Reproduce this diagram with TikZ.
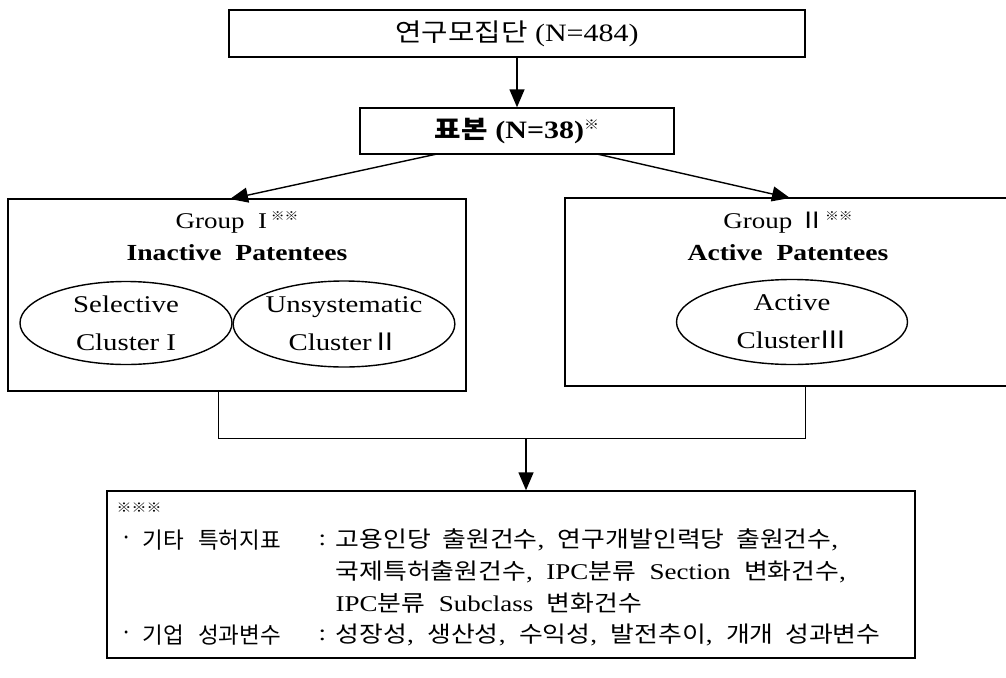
\documentclass[tikz,border=0pt]{standalone}
\usepackage{fontspec}
\setmainfont{Liberation Serif}[FakeStretch=1.2]
\newfontfamily\kr{Noto Sans CJK KR}[FakeStretch=1.15]
\newfontfamily\krn{Noto Sans CJK KR}
\usetikzlibrary{arrows.meta,shapes.geometric}
\newcommand{\refmk}{{\kr ※}}
\tikzset{
  frame/.style={draw, rectangle, inner sep=0pt},
  lbl/.style={inner sep=0pt},
  oval/.style={draw, ellipse, inner sep=0pt, align=center, font=\fontsize{24}{38}\selectfont},
  arr/.style={-{Triangle[length=18pt,width=15pt]}},
  body/.style={inner sep=0pt, anchor=west, font=\fontsize{22.5}{25}\selectfont},
  head/.style={inner sep=0pt, anchor=west, font=\fontsize{22.5}{25}\selectfont\krn},
  bullet/.style={inner sep=0pt, font=\fontsize{22}{25}\selectfont\krn}
}
\begin{document}
\begin{tikzpicture}[x=1pt,y=-1pt,line width=1.4pt]
\useasboundingbox (0,0) rectangle (1006,677);
% top boxes
\node[frame, minimum width=576pt, minimum height=47pt, font=\fontsize{25}{28}\selectfont] (pop) at (517,33.5) {{\kr 연구모집단} (N=484)};
\node[frame, minimum width=314pt, minimum height=46pt, font=\fontsize{25}{28}\selectfont\bfseries] (smp) at (517,131) {{\kr 표본} (N=38)\raisebox{9pt}{\fontsize{13}{13}\selectfont\refmk}};
% group boxes
\node[frame, minimum width=458pt, minimum height=192pt] (g1) at (237,295) {};
\node[frame, minimum width=455pt, minimum height=188pt] (g2) at (792.5,292) {};
\node[lbl, font=\fontsize{22.5}{26}\selectfont] (g1a) at (237,222) {Group\ \ I\,\raisebox{8pt}{\fontsize{12}{12}\selectfont\refmk\refmk}};
\node[lbl, font=\fontsize{23}{26}\selectfont\bfseries] (g1b) at (237,253) {Inactive\ \ Patentees};
\node[lbl, font=\fontsize{22.5}{26}\selectfont] (g2a) at (788,222) {Group\ {\kr Ⅱ}\raisebox{8pt}{\fontsize{12}{12}\selectfont\refmk\refmk}};
\node[lbl, font=\fontsize{23}{26}\selectfont\bfseries] (g2b) at (788,253) {Active\ \ Patentees};
% clusters
\node[oval, minimum width=212pt, minimum height=83pt] (c1) at (126,323) {Selective\\Cluster I};
\node[oval, minimum width=215pt, minimum height=86pt] (c2) at (344,324) {Unsystematic\\Cluster{\kr Ⅱ}};
\node[oval, minimum width=231pt, minimum height=85pt] (c3) at (792,322) {Active\\Cluster{\kr Ⅲ}};
% result box
\node[frame, minimum width=808pt, minimum height=167pt] (res) at (511,574.5) {};
\node[lbl, anchor=west, font=\fontsize{13}{13}\selectfont] (stars) at (116,508) {\refmk\refmk\refmk};
\node[bullet] (b1) at (127,541) {·};
\node[head] (l1a) at (142,540) {기타\hspace{14pt}특허지표};
\node[body] (l1c) at (318,540) {:};
\node[body] (l1b) at (335,540) {{\kr 고용인당\ \ 출원건수}, \ {\kr 연구개발인력당\ \ 출원건수},};
\node[body] (l2) at (335,572) {{\kr 국제특허출원건수}, \ IPC{\kr 분류}\ \ Section\ \ {\kr 변화건수},};
\node[body] (l3) at (335,603) {IPC{\kr 분류}\ \ Subclass\ \ {\kr 변화건수}};
\node[bullet] (b4) at (127,636) {·};
\node[head] (l4a) at (142,635) {기업\hspace{14pt}성과변수};
\node[body] (l4c) at (318,635) {:};
\node[body] (l4b) at (335,635) {{\kr 성장성}, \ {\kr 생산성}, \ {\kr 수익성}, \ {\kr 발전추이}, \ {\kr 개개\ \ 성과변수}};
% connectors
\draw[arr] (pop) -- (smp);
\coordinate (s1) at (437,154);
\coordinate (s2) at (597,154);
\coordinate (t1) at (230,199);
\coordinate (t2) at (790,198);
\draw[arr] (s1) -- (t1);
\draw[arr] (s2) -- (t2);
\coordinate (j1) at (218,438);
\coordinate (j2) at (805,438);
\coordinate (jm) at (526,438);
\draw[line width=1pt] (g1.south -| j1) -- (j1) -- (j2) -- (g2.south -| j2);
\draw[arr] (jm) -- (res.north -| jm);
\end{tikzpicture}
\end{document}
